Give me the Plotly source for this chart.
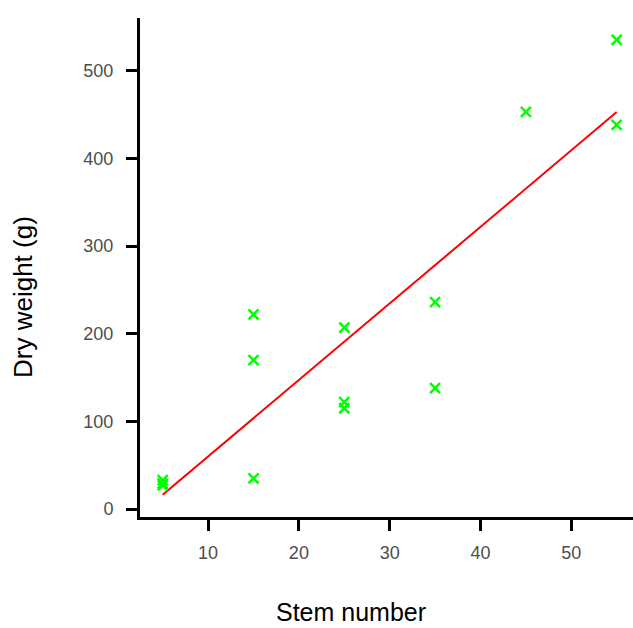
import numpy as np
import plotly.graph_objects as go

stem_number = [5, 5, 5, 15, 15, 15, 25, 25, 25, 35, 35, 45, 55, 55]
dry_weight = [33, 29, 27, 222, 170, 35, 207, 122, 115, 236, 138, 453, 535, 438]
x_ticks = [10, 20, 30, 40, 50]
y_ticks = [0, 100, 200, 300, 400, 500]

slope, intercept = np.polyfit(stem_number, dry_weight, 1)
fit_x = [min(stem_number), max(stem_number)]
fit_y = [intercept + slope * v for v in fit_x]

fig = go.Figure()
fig.add_trace(go.Scatter(x=fit_x, y=fit_y, mode="lines",
                         line=dict(color="#FF0000", width=2), showlegend=False))
fig.add_trace(go.Scatter(x=stem_number, y=dry_weight, mode="markers",
                         marker=dict(symbol="x-thin", size=10, color="#00FF00",
                                     line=dict(color="#00FF00", width=2.5)),
                         showlegend=False))

W, H = 633, 628
L, R, T, B = 140, 0, 18, 111
pw, ph = W - L - R, H - T - B

fig.update_layout(
    width=W, height=H,
    margin=dict(l=L, r=R, t=T, b=B),
    plot_bgcolor="white", paper_bgcolor="white",
    font=dict(family="Liberation Sans, Arial, sans-serif"),
    xaxis=dict(range=[2.5, 56.8], tickvals=x_ticks, showgrid=False, zeroline=False,
               showline=True, linecolor="black", linewidth=3,
               ticks="outside", ticklen=11, tickwidth=3, tickcolor="black",
               ticklabelstandoff=6,
               tickfont=dict(size=18, color="#4D4D4D")),
    yaxis=dict(range=[-9, 560], tickvals=y_ticks, showgrid=False, zeroline=False,
               showline=True, linecolor="black", linewidth=3,
               ticks="outside", ticklen=11, tickwidth=3, tickcolor="black",
               ticklabelstandoff=9,
               tickfont=dict(size=18, color="#4D4D4D")),
    annotations=[
        dict(text="Stem number", x=(351 - L) / pw, y=(H - B - 612) / ph,
             xref="paper", yref="paper", xanchor="center", yanchor="middle",
             showarrow=False, font=dict(size=25, color="black")),
        dict(text="Dry weight (g)", x=(23 - L) / pw, y=(H - B - 297) / ph,
             xref="paper", yref="paper", xanchor="center", yanchor="middle",
             showarrow=False, textangle=-90, font=dict(size=26, color="black")),
    ],
)

fig.write_html("out.html")
